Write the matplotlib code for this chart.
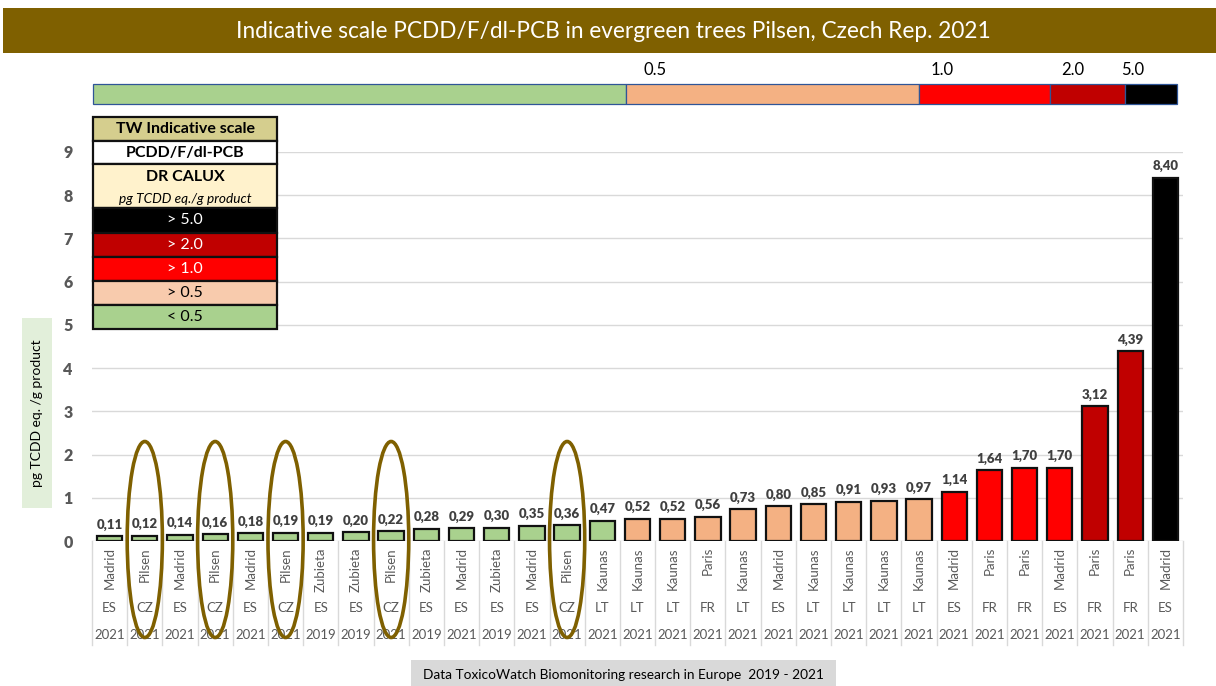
import matplotlib
matplotlib.use("Agg")
import matplotlib.pyplot as plt
from matplotlib.patches import Rectangle, Ellipse
from matplotlib.transforms import Affine2D, blended_transform_factory

plt.rcParams['font.family'] = ['Lato', 'DejaVu Sans']

# ---- data ----
cities = ["Madrid", "Pilsen", "Madrid", "Pilsen", "Madrid", "Pilsen", "Zubieta", "Zubieta",
          "Pilsen", "Zubieta", "Madrid", "Zubieta", "Madrid", "Pilsen", "Kaunas", "Kaunas",
          "Kaunas", "Paris", "Kaunas", "Madrid", "Kaunas", "Kaunas", "Kaunas", "Kaunas",
          "Madrid", "Paris", "Paris", "Madrid", "Paris", "Paris", "Madrid"]
countries = ["ES", "CZ", "ES", "CZ", "ES", "CZ", "ES", "ES", "CZ", "ES", "ES", "ES", "ES", "CZ",
             "LT", "LT", "LT", "FR", "LT", "ES", "LT", "LT", "LT", "LT", "ES", "FR", "FR", "ES",
             "FR", "FR", "ES"]
years = ["2021", "2021", "2021", "2021", "2021", "2021", "2019", "2019", "2021", "2019", "2021",
         "2019", "2021", "2021", "2021", "2021", "2021", "2021", "2021", "2021", "2021", "2021",
         "2021", "2021", "2021", "2021", "2021", "2021", "2021", "2021", "2021"]
values = [0.11, 0.12, 0.14, 0.16, 0.18, 0.19, 0.19, 0.20, 0.22, 0.28, 0.29, 0.30, 0.35, 0.36,
          0.47, 0.52, 0.52, 0.56, 0.73, 0.80, 0.85, 0.91, 0.93, 0.97, 1.14, 1.64, 1.70, 1.70,
          3.12, 4.39, 8.40]
highlight_city = "Pilsen"

scale_labels = ["> 5.0", "> 2.0", "> 1.0", "> 0.5", "< 0.5"]
scale_breaks = [0.5, 1.0, 2.0, 5.0]

GREEN = "#A9D18E"
PEACH = "#F4B183"
RED = "#FF0000"
DARKRED = "#C00000"
BLACK = "#000000"
BROWN = "#7F6000"


def class_color(v):
    if v > 5.0:
        return BLACK
    if v > 2.0:
        return DARKRED
    if v > 1.0:
        return RED
    if v >= 0.5:
        return PEACH
    return GREEN


W, H = 1216, 686
fig = plt.figure(figsize=(W / 100, H / 100), dpi=100)
# pixel coordinates with origin at top-left
px = Affine2D().scale(1 / W, -1 / H).translate(0, 1) + fig.transFigure


def prect(x0, y0, x1, y1, **kw):
    fig.add_artist(Rectangle((x0, y1), x1 - x0, y0 - y1, transform=px, **kw))


def ptext(x, y, s, **kw):
    fig.text(x, y, s, transform=px, **kw)


# ---- axes ----
ax_left, ax_right, ax_top, ax_bottom = 92, 1183, 152, 541
ax = fig.add_axes([ax_left / W, 1 - ax_bottom / H, (ax_right - ax_left) / W,
                   (ax_bottom - ax_top) / H])
n = len(values)
x = list(range(n))
colors = [class_color(v) for v in values]
ax.bar(x, values, width=0.72, color=colors, edgecolor="#111111", linewidth=1.6, zorder=3)
ax.set_xlim(-0.5, n - 0.5)
ax.set_ylim(0, 9)
ax.set_yticks(range(0, 10))
ax.yaxis.grid(True, color="#D9D9D9", linewidth=1, zorder=0)
ax.tick_params(axis="y", length=0, pad=14, labelsize=11.5, labelcolor="#595959")
for lab in ax.get_yticklabels():
    lab.set_fontweight("heavy")
ax.set_xticks([])
for sp in ax.spines.values():
    sp.set_visible(False)

for xi, v in zip(x, values):
    ax.annotate(f"{v:.2f}".replace(".", ","), (xi, v), xytext=(0, 4),
                textcoords="offset points", ha="center", va="bottom",
                fontsize=9.5, fontweight="heavy", color="#404040", zorder=4)

# multi-level category labels
bt = blended_transform_factory(ax.transData, px)
for xi in range(n + 1):
    ax.plot([xi - 0.5, xi - 0.5], [541, 645], transform=bt, color="#D9D9D9",
            linewidth=1, clip_on=False)
for xi, (c, co, yr) in enumerate(zip(cities, countries, years)):
    ax.text(xi, 547, c, transform=bt, rotation=90, ha="center", va="top",
            fontsize=9.5, color="#595959")
    ax.text(xi, 608, co, transform=bt, ha="center", va="center", fontsize=9.5,
            color="#595959")
    ax.text(xi, 635, yr, transform=bt, ha="center", va="center", fontsize=9.5,
            color="#595959")

# highlight ellipses around the Pilsen samples
for xi, c in enumerate(cities):
    if c == highlight_city:
        e = Ellipse((xi, 539.5), 1.0, 196, transform=bt, fill=False,
                    edgecolor=BROWN, linewidth=2.6, clip_on=False, zorder=6)
        ax.add_artist(e)

# ---- title banner ----
prect(3, 8, 1216, 53, facecolor=BROWN, edgecolor="none")
ptext(613, 31, "Indicative scale PCDD/F/dl-PCB in evergreen trees Pilsen, Czech Rep. 2021",
      ha="center", va="center", color="white", fontsize=16.3, fontweight="normal")

# ---- horizontal colour scale ----
seg_edges = [93, 626, 919, 1050, 1125, 1177]
seg_cols = [GREEN, PEACH, RED, DARKRED, BLACK]
for (a, b), col in zip(zip(seg_edges[:-1], seg_edges[1:]), seg_cols):
    prect(a, 84, b, 104, facecolor=col, edgecolor="#2F5597", linewidth=0.9)
for bx, lab in zip([655, 942, 1073, 1133], scale_breaks):
    ptext(bx, 70, f"{lab:.1f}", ha="center", va="center", fontsize=12, color="black")

# ---- indicative scale table ----
tl, tr = 93, 277
rows = [
    (117, 141, "#D5CE8E"),
    (141, 164, "#FFFFFF"),
    (164, 208, "#FFF2CC"),
    (208, 233, BLACK),
    (233, 257, DARKRED),
    (257, 281, RED),
    (281, 305, "#F8CBAD"),
    (305, 329, GREEN),
]
for y0, y1, col in rows:
    prect(tl, y0, tr, y1, facecolor=col, edgecolor="#111111", linewidth=1.6)
cx = (tl + tr) / 2
ptext(cx, 129, "TW Indicative scale", ha="center", va="center", fontsize=11.5,
      fontweight="bold", color="black")
ptext(cx, 152.5, "PCDD/F/dl-PCB", ha="center", va="center", fontsize=11.5,
      fontweight="bold", color="black")
ptext(cx, 177, "DR CALUX", ha="center", va="center", fontsize=11.5,
      fontweight="bold", color="black")
ptext(cx, 199, "pg TCDD eq./g product", ha="center", va="center", fontsize=9.8,
      style="italic", color="black")
txt_cols = ["white", "white", "white", "black", "black"]
for (y0, y1, _), lab, tc in zip(rows[3:], scale_labels, txt_cols):
    ptext(cx, (y0 + y1) / 2, lab, ha="center", va="center", fontsize=11.5, color=tc)

# ---- y-axis title ----
prect(22, 318, 52, 508, facecolor="#E2EFDA", edgecolor="none")
ptext(37, 413, "pg TCDD eq. /g product", ha="center", va="center", rotation=90,
      fontsize=10, color="black")

# ---- footer ----
prect(411, 660, 836, 686, facecolor="#D9D9D9", edgecolor="none")
ptext(623, 675, "Data ToxicoWatch Biomonitoring research in Europe  2019 - 2021",
      ha="center", va="center", fontsize=9.8, color="black")

fig.savefig("out.png", dpi=100)
